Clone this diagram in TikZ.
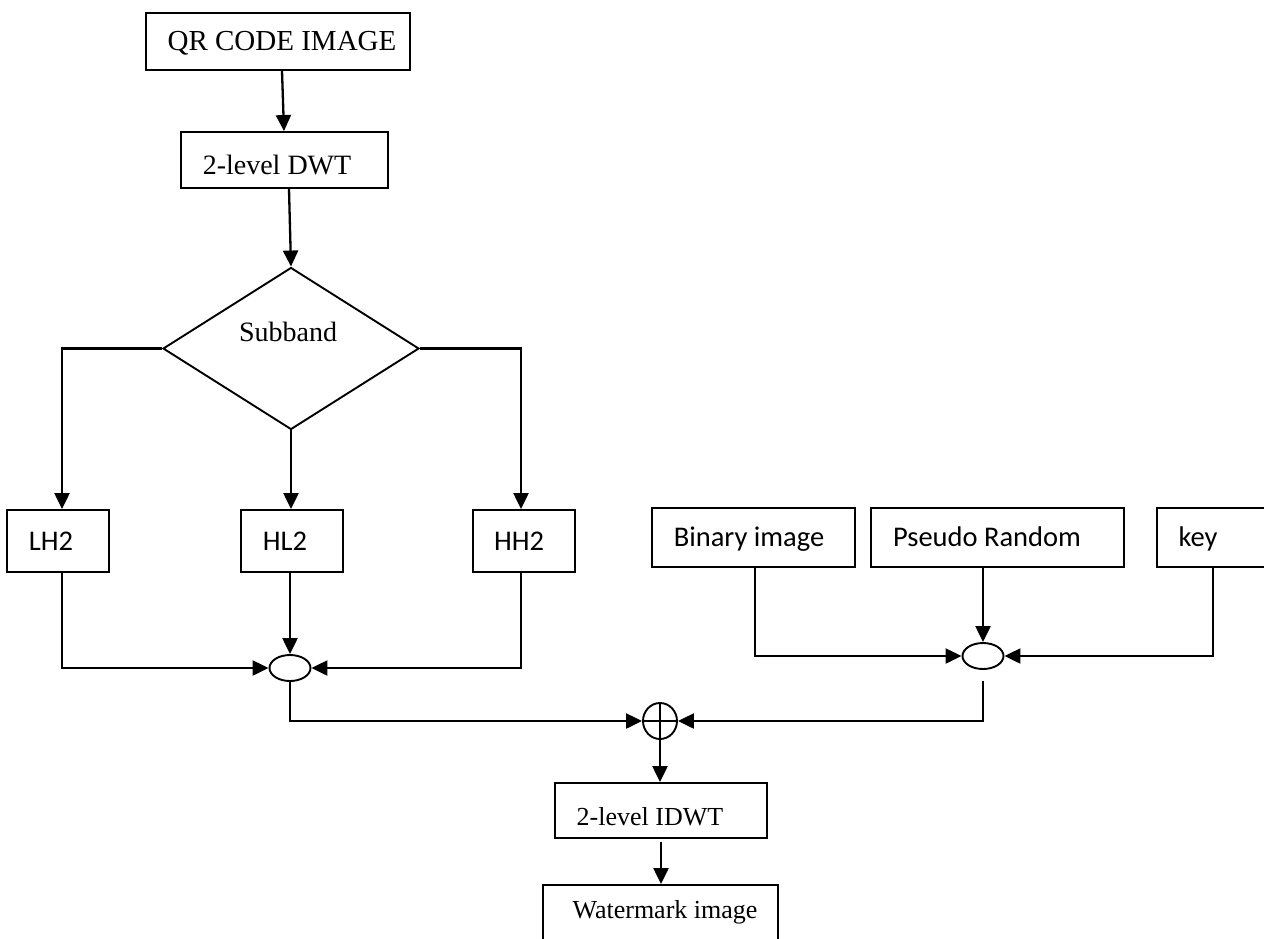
\documentclass[tikz,border=0pt]{standalone}
\usepackage{fontspec}
\setmainfont{Liberation Serif}
\newfontfamily\calfont{Carlito}
\usetikzlibrary{arrows.meta,shapes.geometric,calc}
\begin{document}
\begin{tikzpicture}[x=1pt,y=-1pt,
  box/.style={draw, line width=1.9pt, inner sep=0pt, font=\fontsize{28}{30}\selectfont, text height=24.5pt, text depth=6pt},
  sbox/.style={draw, line width=1.9pt, inner sep=0pt, font=\fontsize{26}{28}\selectfont},
  cbox/.style={draw, line width=1.9pt, inner sep=0pt, font=\calfont\fontsize{28.5}{30}\selectfont, text height=24.5pt, text depth=6pt},
  arr/.style={line width=2.3pt, -{Triangle[length=16pt,width=15pt]}},
  junc/.style={draw, ellipse, line width=1.9pt, inner sep=0pt, minimum width=41pt, minimum height=26pt}]
\useasboundingbox (0,0) rectangle (1264,938);
\fill[white] (0,0) rectangle (1264,938);

% top chain
\node[box, minimum width=264pt, minimum height=57pt, font=\fontsize{29}{31}\selectfont] (qr) at (278,41.5) {\hspace*{8pt}QR CODE IMAGE};
\node[box, minimum width=207pt, minimum height=56pt, text height=34.5pt] (dwt) at (284.5,160) {2-level DWT\hspace*{15pt}};
\node[draw, diamond, line width=1.9pt, inner sep=0pt, minimum width=256pt, minimum height=162pt,
      font=\fontsize{28}{30}\selectfont, text height=0pt, text depth=14.5pt] (dia) at (291,348.5) {Subband\hspace*{6pt}};

% subbands
\node[cbox, minimum width=102pt, minimum height=62pt] (lh2) at (58,541) {LH2\hspace*{14pt}};
\node[cbox, minimum width=102pt, minimum height=62pt] (hl2) at (292,541) {HL2\hspace*{14pt}};
\node[cbox, minimum width=102pt, minimum height=62pt] (hh2) at (524,541) {HH2\hspace*{10pt}};

% right inputs
\node[cbox, minimum width=203pt, minimum height=59pt] (bin) at (753.5,537.5) {Binary image\hspace*{9pt}};
\node[cbox, minimum width=253pt, minimum height=59pt] (psr) at (997.5,537.5) {Pseudo Random\hspace*{21pt}};
\node[cbox, minimum width=112pt, minimum height=59pt] (key) at (1213,537.5) {key\hspace*{30pt}};

% junctions
\node[junc] (j1) at (290,668) {};
\node[junc] (j2) at (983,656) {};
\node[draw, ellipse, line width=1.9pt, inner sep=0pt, minimum width=34pt, minimum height=36pt,
      path picture={\draw[line width=1.4pt] (path picture bounding box.north) -- (path picture bounding box.south)
                    (path picture bounding box.west) -- (path picture bounding box.east);}] (xor) at (660,721) {};

% bottom chain
\node[sbox, minimum width=212pt, minimum height=55pt, text height=36.2pt, text depth=6pt] (idwt) at (661,810.5) {2-level IDWT\hspace*{22pt}};
\node[sbox, minimum width=235pt, minimum height=75pt, text height=0pt, text depth=7.8pt] (wm) at (660.5,922.5) {\hspace*{9pt}Watermark image};

% connectors
\draw[arr] ([xshift=4pt]qr.south) -- ([xshift=-0.5pt]dwt.north);
\draw[arr] ([xshift=4.5pt]dwt.south) -- (dia.north);
\draw[arr] (dia.west) -| ([xshift=4pt]lh2.north);
\draw[arr] (dia.south) -- (dia.south |- hl2.north);
\draw[arr] (dia.east) -| ([xshift=-3pt]hh2.north);

\draw[arr] ([xshift=4pt]lh2.south) |- (j1.west);
\draw[arr] ([xshift=-2pt]hl2.south) -- (j1.north);
\draw[arr] ([xshift=-3pt]hh2.south) |- (j1.east);
\draw[arr] (j1.south) |- (xor.west);

\draw[arr] ([xshift=1.5pt]bin.south) |- (j2.west);
\draw[arr] (psr.south -| j2.north) -- (j2.north);
\draw[arr] (key.south) |- (j2.east);
\draw[arr] ([yshift=-11pt]j2.south) |- (xor.east);

\draw[arr] (xor.south) -- (xor.south |- idwt.north);
\draw[arr] ([yshift=-3pt]idwt.south) -- (idwt.south |- wm.north);
\end{tikzpicture}
\end{document}
